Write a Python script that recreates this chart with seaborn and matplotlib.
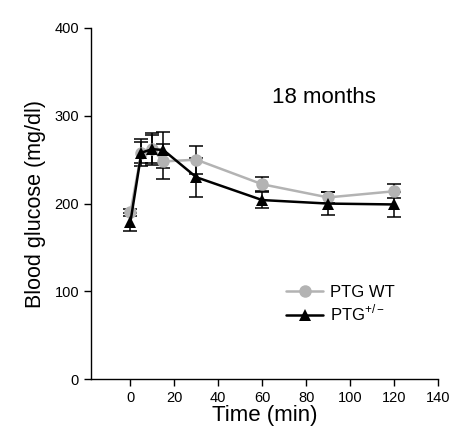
import matplotlib
matplotlib.use("Agg")
import matplotlib.pyplot as plt
import numpy as np
import pandas as pd
import seaborn as sns

# Tiempo (min) y glucosa media +/- error
time_min = [0, 5, 10, 15, 30, 60, 90, 120]
wt_mean = [190, 258, 262, 248, 250, 222, 207, 214]
wt_err = [4, 12, 16, 20, 16, 8, 6, 8]
het_mean = [179, 258, 262, 261, 230, 204, 200, 199]
het_err = [10, 15, 18, 20, 22, 9, 13, 14]

groups = ["PTG WT", "PTG$^{+/-}$"]
colors = {"PTG WT": "#b3b3b3", "PTG$^{+/-}$": "#000000"}
markers = {"PTG WT": "o", "PTG$^{+/-}$": "^"}

df = pd.DataFrame({
    "Time": time_min * 2,
    "Glucose": wt_mean + het_mean,
    "Err": wt_err + het_err,
    "Group": [groups[0]] * len(time_min) + [groups[1]] * len(time_min),
})

sns.set_style("ticks")
plt.rcParams["font.family"] = ["Liberation Sans", "DejaVu Sans"]
plt.rcParams["mathtext.fontset"] = "custom"
plt.rcParams["mathtext.rm"] = "Liberation Sans"
plt.rcParams["text.color"] = "black"
plt.rcParams["axes.labelcolor"] = "black"

fig = plt.figure(figsize=(4.59, 4.44), dpi=100)
ax = fig.add_axes([0.198, 0.146, 0.756, 0.791])

for g in groups:
    sub = df[df["Group"] == g]
    ax.errorbar(sub["Time"], sub["Glucose"], yerr=sub["Err"], fmt="none",
                ecolor="black", elinewidth=1.1, capsize=5, capthick=1.1, zorder=2)

sns.lineplot(data=df, x="Time", y="Glucose", hue="Group", style="Group",
             palette=colors, markers=markers, dashes=False, markersize=9,
             markeredgewidth=0, linewidth=1.8, ax=ax, legend=False, zorder=3)

# leyenda manual con las mismas marcas
handles = [plt.Line2D([], [], color=colors[g], marker=markers[g], markersize=9,
                      markeredgewidth=0, linewidth=1.8) for g in groups]
ax.legend(handles, groups, loc="upper left", bbox_to_anchor=(0.52, 0.31),
          frameon=False, fontsize=12, handlelength=2.2, handletextpad=0.4,
          labelspacing=0.15)

ax.set_xlim(-18, 140)
ax.set_ylim(0, 400)
ax.set_xticks(np.arange(0, 141, 20))
ax.set_yticks(np.arange(0, 401, 100))
ax.tick_params(direction="out", length=5, width=1, labelsize=10.5,
               colors="black", labelcolor="black")
for s in ["left", "bottom"]:
    ax.spines[s].set_linewidth(1)
    ax.spines[s].set_color("black")
sns.despine(ax=ax)

ax.set_xlabel("Time (min)", fontsize=16, labelpad=0)
ax.set_ylabel("Blood glucose (mg/dl)", fontsize=15.5, labelpad=6)
ax.text(88, 321, "18 months", fontsize=16, ha="center", va="center")

fig.savefig("out.png", dpi=100)
